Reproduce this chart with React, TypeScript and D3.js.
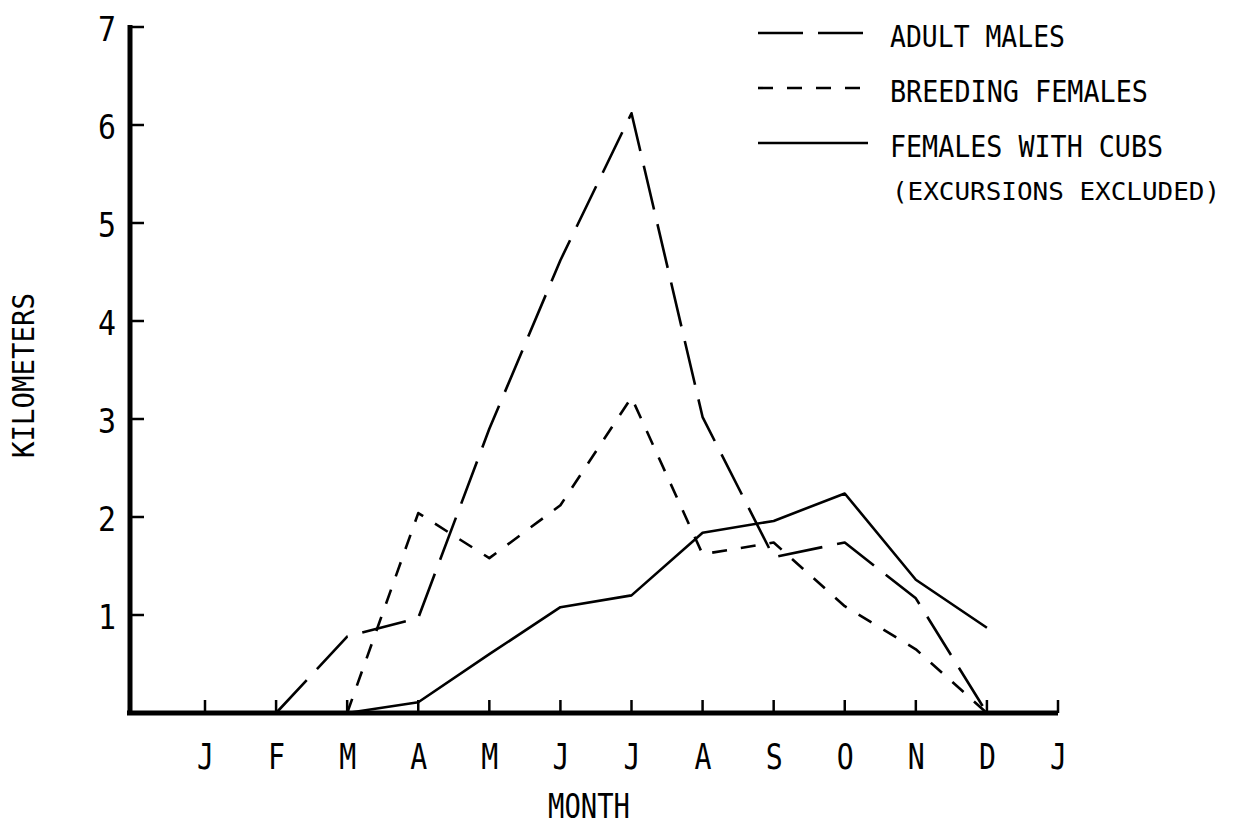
import { useEffect, useRef } from "react";
import * as d3 from "d3";

// month ticks, Jan .. Jan
const months = ["J", "F", "M", "A", "M", "J", "J", "A", "S", "O", "N", "D", "J"];
const yTicks = [1, 2, 3, 4, 5, 6, 7];

// km per month (null = no value)
const adultMales = [null, 0, 0.78, 0.97, 2.9, 4.62, 6.12, 3.02, 1.59, 1.74, 1.17, 0, null];
const breedingFemales = [null, null, 0, 2.04, 1.58, 2.12, 3.22, 1.62, 1.74, 1.09, 0.65, 0, null];
const femalesWithCubs = [null, null, 0, 0.11, 0.6, 1.08, 1.2, 1.84, 1.96, 2.24, 1.36, 0.87, null];

const seriesNames = ["ADULT MALES", "BREEDING FEMALES", "FEMALES WITH CUBS"];
const seriesDash = ["45,15", "15,14", null];

const FONT = "'DejaVu Sans Mono', 'Liberation Mono', monospace";

export default function App() {
  const svgRef = useRef<SVGSVGElement | null>(null);
  const width = 1242;
  const height = 829;

  useEffect(() => {
    if (!svgRef.current) return;
    const svg = d3.select(svgRef.current);
    svg.selectAll("*").remove();

    const x = d3.scaleLinear().domain([0, months.length - 1]).range([205, 1058]);
    const y = d3.scaleLinear().domain([0, 7]).range([713, 27]);

    const g = svg.append("g");

    // axes
    g.append("line")
      .attr("x1", x(0) - 78)
      .attr("x2", x(12))
      .attr("y1", y(0))
      .attr("y2", y(0))
      .attr("stroke", "#000")
      .attr("stroke-width", 5);
    g.append("line")
      .attr("x1", x(0) - 75)
      .attr("x2", x(0) - 75)
      .attr("y1", y(7) - 2)
      .attr("y2", y(0) + 2)
      .attr("stroke", "#000")
      .attr("stroke-width", 5);

    // x ticks (up) and labels
    months.forEach((m, i) => {
      g.append("line")
        .attr("x1", x(i))
        .attr("x2", x(i))
        .attr("y1", y(0))
        .attr("y2", y(0) - 13)
        .attr("stroke", "#000")
        .attr("stroke-width", 2.5);
      g.append("text")
        .attr("x", x(i) - 8)
        .attr("y", 769)
        .attr("font-family", FONT)
        .attr("font-size", 35)
        .attr("textLength", 17)
        .attr("lengthAdjust", "spacingAndGlyphs")
        .text(m);
    });

    // y ticks (right) and labels
    yTicks.forEach((t) => {
      g.append("line")
        .attr("x1", x(0) - 75)
        .attr("x2", x(0) - 61)
        .attr("y1", y(t))
        .attr("y2", y(t))
        .attr("stroke", "#000")
        .attr("stroke-width", 2.5);
      g.append("text")
        .attr("x", 98)
        .attr("y", y(t) + 14)
        .attr("font-family", FONT)
        .attr("font-size", 33)
        .attr("textLength", 18)
        .attr("lengthAdjust", "spacingAndGlyphs")
        .text(t);
    });

    // axis titles
    g.append("text")
      .attr("x", 548)
      .attr("y", 818)
      .attr("font-family", FONT)
      .attr("font-size", 33)
      .attr("textLength", 82)
      .attr("lengthAdjust", "spacingAndGlyphs")
      .text("MONTH");
    g.append("text")
      .attr("transform", "translate(34,458) rotate(-90)")
      .attr("font-family", FONT)
      .attr("font-size", 31)
      .attr("textLength", 165)
      .attr("lengthAdjust", "spacingAndGlyphs")
      .text("KILOMETERS");

    // series
    const allSeries = [adultMales, breedingFemales, femalesWithCubs];
    const line = d3
      .line<number | null>()
      .defined((d) => d !== null)
      .x((_, i) => x(i))
      .y((d) => y(d as number));

    allSeries.forEach((s, k) => {
      g.append("path")
        .attr("d", line(s))
        .attr("fill", "none")
        .attr("stroke", "#000")
        .attr("stroke-width", 2.6)
        .attr("stroke-linejoin", "round")
        .attr("stroke-dasharray", seriesDash[k] ?? null);
    });

    // legend
    const legendY = [33, 88, 143];
    const legendLen = [175, 258, 273];
    seriesNames.forEach((name, k) => {
      g.append("line")
        .attr("x1", 758)
        .attr("x2", 868)
        .attr("y1", legendY[k])
        .attr("y2", legendY[k])
        .attr("stroke", "#000")
        .attr("stroke-width", 2.6)
        .attr("stroke-dasharray", seriesDash[k] ?? null);
      g.append("text")
        .attr("x", 890)
        .attr("y", legendY[k] + 14)
        .attr("font-family", FONT)
        .attr("font-size", 31)
        .attr("textLength", legendLen[k])
        .attr("lengthAdjust", "spacingAndGlyphs")
        .text(name);
    });
    g.append("text")
      .attr("x", 892)
      .attr("y", 200)
      .attr("font-family", FONT)
      .attr("font-size", 25)
      .attr("textLength", 328)
      .attr("lengthAdjust", "spacingAndGlyphs")
      .text("(EXCURSIONS EXCLUDED)");
  }, []);

  return (
    <svg
      ref={svgRef}
      width={width}
      height={height}
      style={{ position: "absolute", left: 0, top: 0, background: "#fff" }}
    />
  );
}
